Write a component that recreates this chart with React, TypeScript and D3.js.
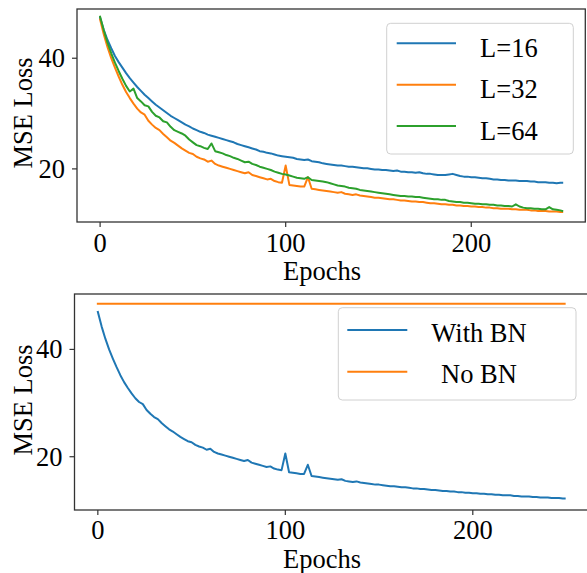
import React from "react";
import * as d3 from "d3";

const epochs = [
  0, 2, 4, 6, 8, 10, 12, 14, 16, 18,
  20, 22, 24, 26, 28, 30, 32, 34, 36, 38,
  40, 42, 44, 46, 48, 50, 52, 54, 56, 58,
  60, 62, 64, 66, 68, 70, 72, 74, 76, 78,
  80, 82, 84, 86, 88, 90, 92, 94, 96, 98,
  100, 102, 104, 106, 108, 110, 112, 114, 116, 118,
  120, 122, 124, 126, 128, 130, 132, 134, 136, 138,
  140, 142, 144, 146, 148, 150, 152, 154, 156, 158,
  160, 162, 164, 166, 168, 170, 172, 174, 176, 178,
  180, 182, 184, 186, 188, 190, 192, 194, 196, 198,
  200, 202, 204, 206, 208, 210, 212, 214, 216, 218,
  220, 222, 224, 226, 228, 230, 232, 234, 236, 238,
  240, 242, 244, 246, 248, 249,
];

const lossL16 = [
  47.3, 45.1, 43.3, 41.8, 40.4, 39.3, 38.3, 37.3, 36.4, 35.6,
  34.8, 34.1, 33.4, 32.8, 32.2, 31.6, 31.1, 30.6, 30.1, 29.6,
  29.2, 28.8, 28.4, 28.0, 27.7, 27.3, 27.0, 26.7, 26.5, 26.2,
  26.0, 25.8, 25.6, 25.4, 25.2, 25.0, 24.8, 24.5, 24.3, 24.1,
  23.9, 23.7, 23.5, 23.2, 23.1, 22.9, 22.8, 22.6, 22.4, 22.3,
  22.2, 22.1, 22.0, 21.8, 21.7, 21.6, 21.7, 21.4, 21.3, 21.2,
  21.0, 20.9, 20.8, 20.7, 20.6, 20.6, 20.5, 20.4, 20.4, 20.3,
  20.2, 20.1, 20.1, 20.0, 19.9, 19.9, 19.8, 19.8, 19.7, 19.6,
  19.7, 19.5, 19.5, 19.4, 19.4, 19.3, 19.4, 19.2, 19.1, 19.1,
  19.0, 18.9, 18.9, 18.9, 19.0, 19.1, 18.9, 18.7, 18.6, 18.6,
  18.5, 18.5, 18.4, 18.3, 18.3, 18.2, 18.1, 18.1, 18.0, 18.0,
  17.9, 17.9, 17.9, 17.8, 17.8, 17.8, 17.7, 17.7, 17.6, 17.6,
  17.6, 17.5, 17.5, 17.4, 17.5, 17.5,
];

const lossL32 = [
  47.0, 44.3, 42.0, 40.0, 38.3, 36.7, 35.2, 33.9, 32.8, 31.8,
  30.9, 30.2, 29.8, 28.7, 28.0, 27.4, 27.0, 26.3, 25.7, 25.1,
  24.7, 24.2, 23.7, 23.3, 22.9, 22.7, 22.2, 21.9, 21.7, 21.3,
  21.5, 20.9, 20.6, 20.4, 20.2, 20.0, 19.8, 19.6, 19.4, 19.2,
  19.4, 18.9, 18.7, 18.5, 18.3, 18.1, 18.2, 17.8, 17.6, 17.5,
  20.6, 17.1, 17.0, 16.9, 16.8, 16.8, 18.5, 16.4, 16.3, 16.2,
  16.1, 16.0, 15.9, 15.8, 15.7, 15.8, 15.5, 15.4, 15.3, 15.4,
  15.2, 15.1, 15.0, 14.9, 14.8, 14.8, 14.7, 14.6, 14.5, 14.5,
  14.4, 14.3, 14.3, 14.2, 14.1, 14.1, 14.0, 14.0, 13.9, 13.8,
  13.8, 13.7, 13.6, 13.6, 13.5, 13.5, 13.4, 13.4, 13.3, 13.3,
  13.2, 13.2, 13.1, 13.1, 13.0, 13.0, 12.9, 12.9, 12.8, 12.8,
  12.8, 12.7, 12.7, 12.6, 12.6, 12.6, 12.5, 12.5, 12.4, 12.4,
  12.4, 12.3, 12.3, 12.3, 12.2, 12.2,
];

const lossL64 = [
  47.5, 45.0, 42.8, 40.9, 39.2, 37.7, 36.3, 35.0, 34.0, 34.5,
  32.8, 32.2, 31.5, 31.3, 30.3, 29.6, 29.3, 28.6, 28.4, 27.6,
  27.0, 26.7, 26.4, 26.0, 25.3, 24.8, 24.3, 24.1, 23.8, 23.6,
  24.6, 23.2, 23.0, 22.8, 22.5, 22.3, 22.0, 21.8, 21.5, 21.2,
  21.3, 20.9, 20.7, 20.4, 20.2, 20.0, 19.8, 19.5, 19.3, 19.1,
  19.0, 18.8, 18.6, 18.4, 18.3, 18.2, 18.5, 18.0, 17.9, 17.8,
  17.7, 17.6, 17.4, 17.2, 17.0, 16.9, 16.8, 16.6, 16.5, 16.4,
  16.2, 16.1, 16.0, 15.9, 15.8, 15.7, 15.6, 15.5, 15.4, 15.3,
  15.2, 15.1, 15.1, 15.0, 15.0, 14.9, 14.9, 14.8, 14.7, 14.6,
  14.5, 14.5, 14.4, 14.4, 14.2, 14.1, 14.0, 14.0, 13.9, 13.9,
  13.8, 13.7, 13.7, 13.6, 13.6, 13.5, 13.5, 13.4, 13.4, 13.3,
  13.3, 13.2, 13.6, 13.2, 13.0, 12.9, 12.9, 12.8, 12.8, 12.7,
  12.7, 13.1, 12.7, 12.6, 12.5, 12.4,
];

// Bottom panel: "With BN" follows the same run as L=32 (identical spikes)
const lossWithBN = lossL32;
const noBNEpochs = [0, 249];
const lossNoBN = [48.5, 48.5];

const topLabels = ["L=16", "L=32", "L=64"];
const bottomLabels = ["With BN", "No BN"];
const xTicks = [0, 100, 200];
const yTicks = [20, 40];

const COLORS = ["#1f77b4", "#ff7f0e", "#2ca02c"];
const FONT = "'Liberation Serif', 'Times New Roman', Times, serif";
const FS = 26.5;
const AX = "#333333";

type Series = { xs: number[]; ys: number[]; color: string };

function Panel(props: {
  left: number; right: number; top: number; bottom: number;
  yDomain: [number, number];
  series: Series[];
  ylabelY: number;
  xlabelX: number;
  tickBaseline: number;
  xlabelBaseline: number;
}) {
  const { left, right, top, bottom, yDomain, series } = props;
  const x = d3.scaleLinear().domain([-12.45, 261.45]).range([left, right]);
  const y = d3.scaleLinear().domain(yDomain).range([bottom, top]);
  return (
    <g>
      {series.map((s, i) => {
        const line = d3.line<number>()
          .x((_, j) => x(s.xs[j]))
          .y((d) => y(d));
        return (
          <path key={i} d={line(s.ys) || ""} fill="none" stroke={s.color}
            strokeWidth={2} strokeLinejoin="round" strokeLinecap="square" />
        );
      })}
      <rect x={left} y={top} width={right - left} height={bottom - top}
        fill="none" stroke={AX} strokeWidth={1.3} />
      {xTicks.map((t) => (
        <g key={"x" + t}>
          <line x1={x(t)} x2={x(t)} y1={bottom} y2={bottom + 5} stroke={AX} strokeWidth={1.2} />
          <text x={x(t)} y={props.tickBaseline} textAnchor="middle"
            fontFamily={FONT} fontSize={FS} fill="#000">{t}</text>
        </g>
      ))}
      {yTicks.map((t) => (
        <g key={"y" + t}>
          <line x1={left - 5} x2={left} y1={y(t)} y2={y(t)} stroke={AX} strokeWidth={1.2} />
          <text x={left - 12} y={y(t)} dy="0.34em" textAnchor="end"
            fontFamily={FONT} fontSize={FS} fill="#000">{t}</text>
        </g>
      ))}
      <text x={props.xlabelX} y={props.xlabelBaseline} textAnchor="middle"
        fontFamily={FONT} fontSize={FS} fill="#000">Epochs</text>
      <text transform={`translate(32,${props.ylabelY}) rotate(-90)`} textAnchor="middle"
        fontFamily={FONT} fontSize={FS} fill="#000">MSE Loss</text>
    </g>
  );
}

export default function App() {
  return (
    <svg width={587} height={573} viewBox="0 0 587 573"
      style={{ position: "absolute", left: 0, top: 0, background: "#fff" }}>
      <rect x={0} y={0} width={587} height={573} fill="#fff" />
      <Panel left={77} right={585.3} top={9} bottom={222}
        yDomain={[10.4, 48.9]}
        series={[
          { xs: epochs, ys: lossL16, color: COLORS[0] },
          { xs: epochs, ys: lossL32, color: COLORS[1] },
          { xs: epochs, ys: lossL64, color: COLORS[2] },
        ]}
        ylabelY={113} xlabelX={322} tickBaseline={252} xlabelBaseline={280} />
      <Panel left={74.5} right={588} top={294} bottom={510}
        yDomain={[10.07, 50.33]}
        series={[
          { xs: epochs, ys: lossWithBN, color: COLORS[0] },
          { xs: noBNEpochs, ys: lossNoBN, color: COLORS[1] },
        ]}
        ylabelY={400} xlabelX={322} tickBaseline={538.5} xlabelBaseline={568} />
      {/* top legend */}
      <g>
        <rect x={386.7} y={23.3} width={186.6} height={130.7} rx={4}
          fill="#fff" fillOpacity={0.8} stroke="#d0d0d0" strokeWidth={1} />
        {topLabels.map((l, i) => (
          <g key={l}>
            <line x1={396.7} x2={456} y1={43.3 + i * 41.4} y2={43.3 + i * 41.4}
              stroke={COLORS[i]} strokeWidth={2} />
            <text x={480} y={56.7 + i * 41.4} fontFamily={FONT} fontSize={FS} fill="#000">{l}</text>
          </g>
        ))}
      </g>
      {/* bottom legend */}
      <g>
        <rect x={338.3} y={307.7} width={237.7} height={92.3} rx={4}
          fill="#fff" fillOpacity={0.8} stroke="#d0d0d0" strokeWidth={1} />
        {bottomLabels.map((l, i) => (
          <g key={l}>
            <line x1={347.3} x2={407.3} y1={330 + i * 41.7} y2={330 + i * 41.7}
              stroke={COLORS[i]} strokeWidth={2} />
            <text x={479} y={341.7 + i * 41} textAnchor="middle"
              fontFamily={FONT} fontSize={FS} fill="#000">{l}</text>
          </g>
        ))}
      </g>
    </svg>
  );
}
